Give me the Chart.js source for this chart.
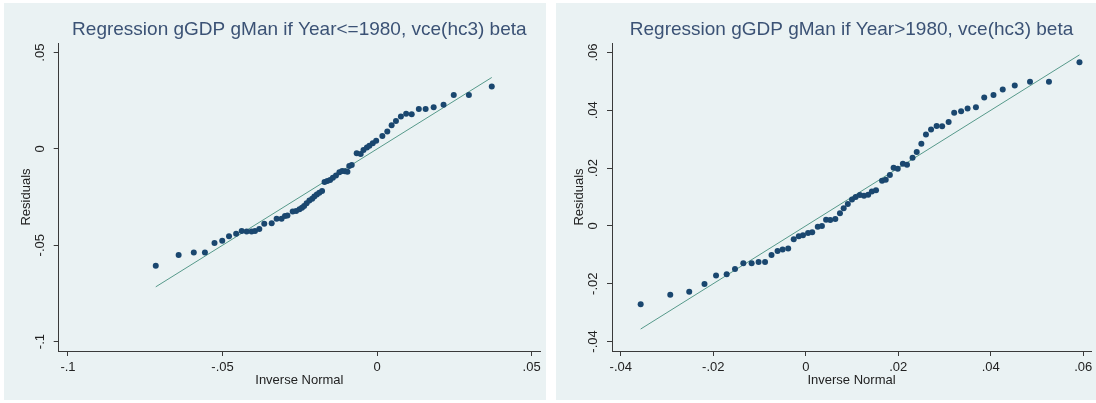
<!DOCTYPE html>
<html><head><meta charset="utf-8">
<script src="https://cdn.jsdelivr.net/npm/chart.js@4/dist/chart.umd.min.js"></script>
<style>
html,body{margin:0;padding:0;background:#fff;width:1096px;height:403px;overflow:hidden;}
.panel{position:absolute;top:3px;height:397px;background:#eaf2f3;}
#p1{left:4px;width:542px;}
#p2{left:556px;width:540px;}
canvas{display:block;}
</style></head><body>
<div class="panel" id="p1"><canvas id="c1" width="542" height="397"></canvas></div>
<div class="panel" id="p2"><canvas id="c2" width="540" height="397"></canvas></div>
<script>
// ---- data ----
const leftTitle = "Regression gGDP gMan if Year<=1980, vce(hc3) beta";
const rightTitle = "Regression gGDP gMan if Year>1980, vce(hc3) beta";
const xAxisTitle = "Inverse Normal";
const yAxisTitle = "Residuals";

const leftInvNormal = [-0.0716,-0.0642,-0.0593,-0.0557,-0.0526,-0.0501,-0.0479,-0.0456,-0.0438,-0.0422,-0.0406,-0.0395,-0.0381,-0.0365,-0.0341,-0.0325,-0.0309,-0.0298,-0.0290,-0.0273,-0.0262,-0.0251,-0.0243,-0.0236,-0.0228,-0.0219,-0.0210,-0.0203,-0.0195,-0.0187,-0.0178,-0.0170,-0.0161,-0.0152,-0.0143,-0.0133,-0.0122,-0.0113,-0.0104,-0.0096,-0.0090,-0.0082,-0.0066,-0.0053,-0.0044,-0.0033,-0.0025,-0.0014,-0.0003,0.0017,0.0033,0.0047,0.0061,0.0077,0.0094,0.0112,0.0135,0.0157,0.0183,0.0215,0.0248,0.0297,0.0371];
const leftResiduals = [-0.0607,-0.0550,-0.0537,-0.0538,-0.0488,-0.0476,-0.0453,-0.0440,-0.0426,-0.0429,-0.0429,-0.0426,-0.0415,-0.0389,-0.0386,-0.0362,-0.0363,-0.0348,-0.0346,-0.0325,-0.0322,-0.0313,-0.0305,-0.0296,-0.0282,-0.0268,-0.0258,-0.0247,-0.0237,-0.0227,-0.0218,-0.0171,-0.0166,-0.0161,-0.0149,-0.0138,-0.0121,-0.0114,-0.0116,-0.0119,-0.0088,-0.0083,-0.0022,-0.0026,-0.0005,0.0007,0.0017,0.0029,0.0043,0.0067,0.0090,0.0123,0.0145,0.0168,0.0183,0.0180,0.0208,0.0208,0.0216,0.0230,0.0280,0.0280,0.0324];
const leftLineX = [-0.0716, 0.0371];
const leftLineY = [-0.0716, 0.0371];
const leftXTicks = [-0.1, -0.05, 0, 0.05];
const leftXTickLabels = ["-.1", "-.05", "0", ".05"];
const leftYTicks = [-0.1, -0.05, 0, 0.05];
const leftYTickLabels = ["-.1", "-.05", "0", ".05"];
const leftXRange = [-0.103, 0.0527];
const leftYRange = [-0.1049, 0.055];

const rightInvNormal = [-0.0357,-0.0293,-0.0252,-0.0219,-0.0194,-0.0171,-0.0153,-0.0135,-0.0117,-0.0102,-0.0088,-0.0074,-0.0061,-0.0050,-0.0038,-0.0026,-0.0015,-0.0006,0.0005,0.0014,0.0026,0.0035,0.0044,0.0053,0.0064,0.0074,0.0082,0.0091,0.0100,0.0108,0.0117,0.0126,0.0135,0.0143,0.0152,0.0165,0.0173,0.0182,0.0190,0.0199,0.0210,0.0219,0.0231,0.0240,0.0250,0.0260,0.0271,0.0283,0.0295,0.0309,0.0321,0.0336,0.0350,0.0368,0.0386,0.0406,0.0426,0.0452,0.0485,0.0526,0.0592];
const rightResiduals = [-0.0271,-0.0238,-0.0228,-0.0201,-0.0172,-0.0167,-0.0149,-0.0129,-0.0129,-0.0125,-0.0125,-0.0101,-0.0087,-0.0082,-0.0078,-0.0046,-0.0036,-0.0032,-0.0025,-0.0022,-0.0003,0.0000,0.0021,0.0020,0.0024,0.0044,0.0061,0.0076,0.0091,0.0100,0.0107,0.0104,0.0108,0.0119,0.0123,0.0156,0.0160,0.0176,0.0201,0.0198,0.0215,0.0212,0.0236,0.0256,0.0284,0.0316,0.0334,0.0346,0.0345,0.0360,0.0392,0.0397,0.0406,0.0411,0.0444,0.0453,0.0472,0.0486,0.0499,0.0499,0.0566];
const rightLineX = [-0.0357, 0.0592];
const rightLineY = [-0.0357, 0.0592];
const rightXTicks = [-0.04, -0.02, 0, 0.02, 0.04, 0.06];
const rightXTickLabels = ["-.04", "-.02", "0", ".02", ".04", ".06"];
const rightYTicks = [-0.04, -0.02, 0, 0.02, 0.04, 0.06];
const rightYTickLabels = ["-.04", "-.02", "0", ".02", ".04", ".06"];
const rightXRange = [-0.0419, 0.0617];
const rightYRange = [-0.0433, 0.0633];

// ---- styling ----
const FONT = "'Liberation Sans', Arial, sans-serif";
const MARKER = "#1a476f";
const LINECOL = "#56998a";
const AXISCOL = "#3a3a3a";
const TEXTCOL = "#222222";
const TITLECOL = "#3b5275";

function pts(xs, ys){ return xs.map((x,i)=>({x:x, y:ys[i]})); }

function makeChart(id, cfg){
  const ctx = document.getElementById(id);
  return new Chart(ctx, {
    type: 'scatter',
    data: {
      datasets: [
        { data: pts(cfg.lineX, cfg.lineY), showLine: true, pointRadius: 0,
          borderColor: LINECOL, borderWidth: 1, order: 2 },
        { data: pts(cfg.x, cfg.y), showLine: false, pointRadius: 3, pointHoverRadius: 3,
          pointBackgroundColor: MARKER, pointBorderColor: MARKER, pointBorderWidth: 0, order: 1 }
      ]
    },
    options: {
      responsive: false, animation: false, devicePixelRatio: 1, events: [],
      layout: { padding: { left: 0, right: cfg.padRight, top: 0, bottom: 0 } },
      plugins: {
        legend: { display: false }, tooltip: { enabled: false },
        title: { display: true, text: cfg.title, fullSize: false, color: TITLECOL,
          font: { family: FONT, size: 19, weight: 'normal', lineHeight: 1.2 },
          padding: { top: 15.6, bottom: 1.6 } }
      },
      scales: {
        x: {
          type: 'linear', position: 'bottom', min: cfg.xRange[0], max: cfg.xRange[1],
          afterBuildTicks: s => { s.ticks = cfg.xTicks.map(v => ({ value: v })); },
          afterFit: s => { s.height = 49; },
          ticks: { callback: (v, i) => cfg.xTickLabels[i], color: TEXTCOL, autoSkip: false,
            maxRotation: 0, minRotation: 0, padding: 3.7,
            font: { family: FONT, size: 13 } },
          grid: { drawOnChartArea: false, drawTicks: true, tickLength: 5, color: AXISCOL, lineWidth: 1 },
          border: { display: true, color: AXISCOL, width: 1 },
          title: { display: true, text: xAxisTitle, color: TEXTCOL,
            font: { family: FONT, size: 13 }, padding: { top: 0, bottom: 12.2 } }
        },
        y: {
          type: 'linear', position: 'left', min: cfg.yRange[0], max: cfg.yRange[1],
          afterBuildTicks: s => { s.ticks = cfg.yTicks.map(v => ({ value: v })); },
          afterFit: s => { s.width = cfg.yWidth; },
          ticks: { callback: (v, i) => cfg.yTickLabels[i], color: TEXTCOL, autoSkip: false,
            minRotation: 90, maxRotation: 90, crossAlign: 'center', padding: cfg.yTickPad,
            font: { family: FONT, size: 13 } },
          grid: { drawOnChartArea: false, drawTicks: true, tickLength: 5, color: AXISCOL, lineWidth: 1 },
          border: { display: true, color: AXISCOL, width: 1 },
          title: { display: true, text: yAxisTitle, color: TEXTCOL,
            font: { family: FONT, size: 13 }, padding: { top: cfg.yTitlePad, bottom: 0 } }
        }
      }
    }
  });
}

makeChart('c1', { title: leftTitle, x: leftInvNormal, y: leftResiduals,
  lineX: leftLineX, lineY: leftLineY, xTicks: leftXTicks, xTickLabels: leftXTickLabels,
  yTicks: leftYTicks, yTickLabels: leftYTickLabels, xRange: leftXRange, yRange: leftYRange,
  padRight: 6, yWidth: 54.7, yTickPad: 2.3, yTitlePad: 14.4 });

makeChart('c2', { title: rightTitle, x: rightInvNormal, y: rightResiduals,
  lineX: rightLineX, lineY: rightLineY, xTicks: rightXTicks, xTickLabels: rightXTickLabels,
  yTicks: rightYTicks, yTickLabels: rightYTickLabels, xRange: rightXRange, yRange: rightYRange,
  padRight: 3, yWidth: 56, yTickPad: 2.4, yTitlePad: 15.7 });
</script>
</body></html>
